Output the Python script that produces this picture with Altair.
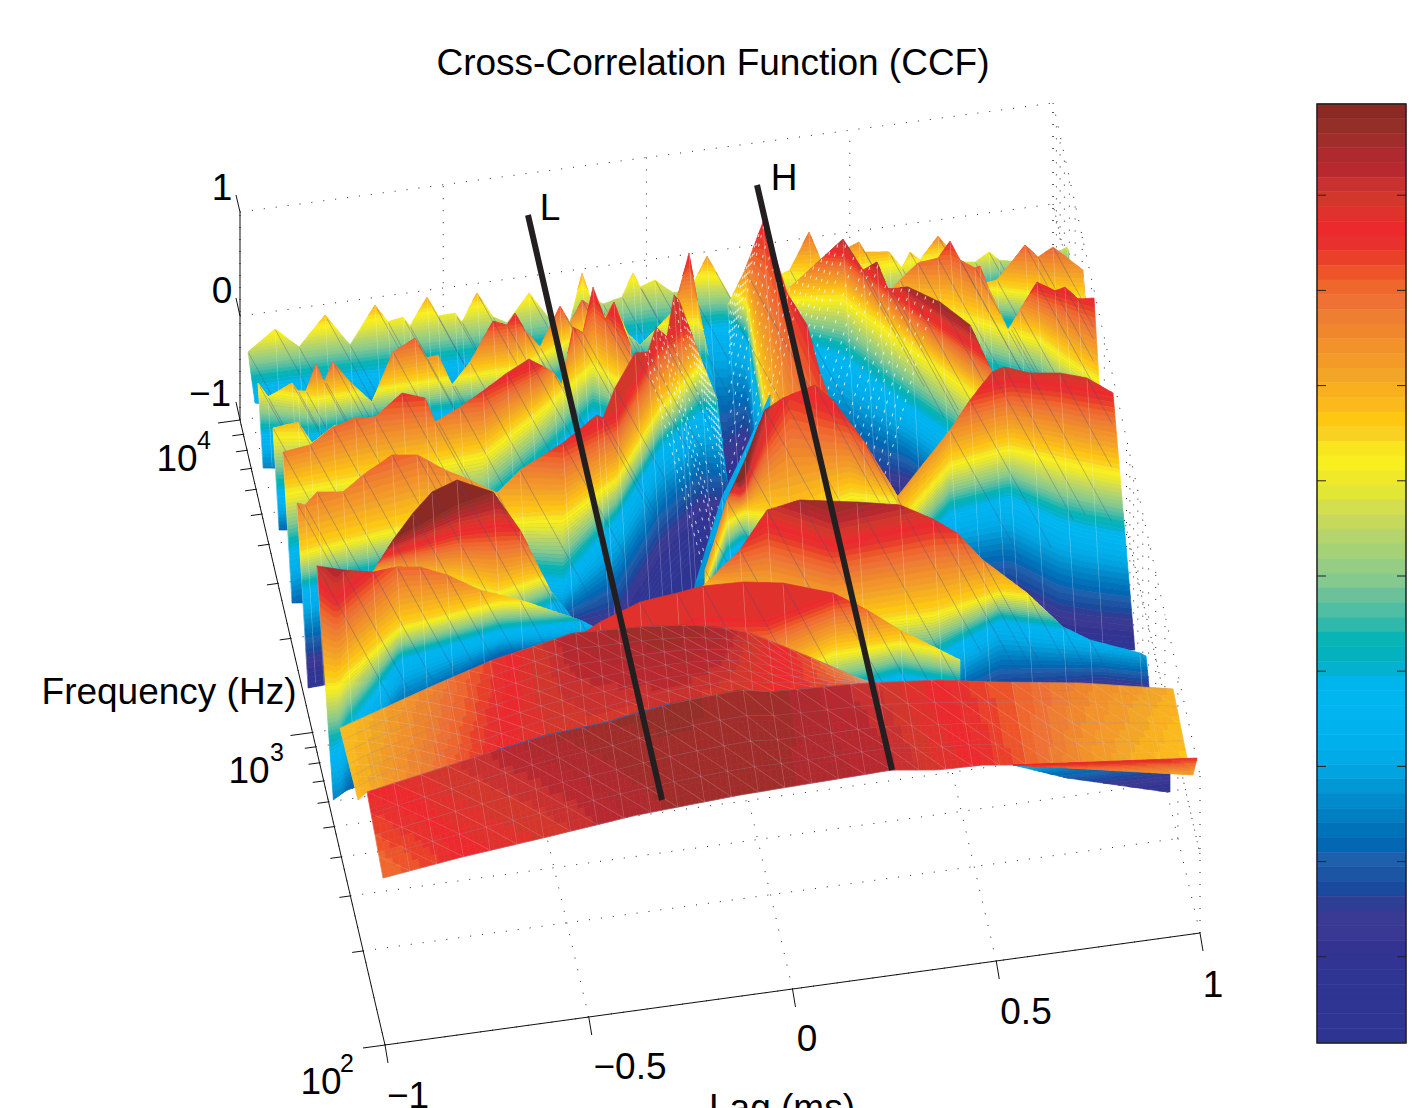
import math
import numpy as np
import pandas as pd
import altair as alt

# Colour bar, top to bottom, 64 steps
BAR_COLORS = ["#8B2A25","#932E28","#A12D2A","#AF2A2E","#B8282F","#C8312F","#D3372C","#E0312D",
 "#EC2A2E","#E8302E","#EA4029","#EE5429","#F0672E","#EF7133","#EE7E31","#F0872D",
 "#F3922A","#F39A28","#F2A527","#F9B01E","#FBB91C","#FEC812","#F9D122","#F9E51F",
 "#F9EE20","#EFE92A","#E2E635","#D4DF4F","#C6D95B","#B6D46C","#A5D276","#94CD83",
 "#84C98E","#6DC19A","#50BEA3","#30B8AB","#09B5B4","#03B2BC","#04B1CE","#00B5EC",
 "#00B6EF","#00B5F0","#00B3EE","#00B0EC","#00ABE8","#01A4E0","#0198D5","#018BCC",
 "#007FC2","#0072BA","#0367B3","#1E60AC","#1C55A3","#1A4A9E","#2F3E95","#393A93",
 "#393892","#333491","#313492","#2F3593","#2F3593","#2F3593","#2F3593","#2E3492"]
BAR_TICKS = [0.8,0.6,0.4,0.2,0,-0.2,-0.4,-0.6,-0.8]
BAR_LABELS = ["0.8","0.6","0.4","0.2","0","−0.2","−0.4","−0.6","−0.8"]
Z_TOP, Z_BOT = 0.992, -0.981
STEP = (Z_TOP - Z_BOT) / 64

# The surface as seen in the picture's view plane: ridge outlines (x, top y), lower limit,
# and where the colour levels 0.7 / 0.3 / -0.3 / -0.65 fall at some columns.
A = dict(X=[248,275,299,325,350,375,388,403,410,427,438,455,462,477,493,507,529,548,570,582,590,603,622,633,640,655,673,690,707,732,770,790,809,822,833,843,859,865,889,902,910,920,938,960,975,989,999,1015,1040,1067,1069],
 T=[352,329,347,315,345,305,322,317,326,297,316,313,322,293,317,323,293,317,323,273,297,304,297,273,287,280,293,290,256,300,280,270,232,263,259,250,242,252,252,268,252,260,236,262,262,252,260,262,262,247,252],
 bx=[248,500,700,800,1069], by=[403,440,510,500,350],
 ax=[248,500,650,720,810,950,1069],
 lv=[[290,262,235,235,215,225,205],[330,297,268,270,270,250,235],[395,365,345,333,340,310,280],[450,420,420,433,430,400,330]], sl=.137, sr=0, zmax=.72)
R1 = dict(X=[860,918,975,997,1025,1038,1053,1083,1085], T=[300,290,285,280,245,257,247,270,300],
 bx=[860,1085], by=[400,400], ax=[860,990,1085],
 lv=[[235,235,235],[285,285,295],[330,330,345],[380,380,390]], sl=0, sr=0, zmax=.75)
B = dict(X=[258,268,292,298,306,316,324,333,350,372,393,415,427,438,452,470,493,507,515,525,540,560,570,582,605,614,627,640,655,674,689,697,705,717,728],
 T=[383,397,383,391,391,364,382,362,382,402,352,338,358,355,385,362,321,325,313,330,347,306,323,300,317,302,333,345,330,310,253,300,340,400,490],
 bx=[258,450,728], by=[468,470,520], ax=[258,316,415,515,593,689,728],
 lv=[[345,355,330,320,290,262,262],[385,395,380,365,325,317,317],[440,440,420,410,365,370,370],[490,490,470,460,420,420,420]], sl=.06, sr=0, zmax=.75)
B2 = dict(X=[273,298,312,335,360], T=[428,422,443,425,440], bx=[273,360], by=[530,530], ax=[273,360],
 lv=[[380,380],[430,430],[500,500],[540,540]], sl=.06, sr=0, zmax=.5)
R2 = dict(X=[880,900,918,938,950,960,975,980,988,1008,1020,1037,1055,1065,1078,1094],
 T=[300,280,263,258,241,260,268,266,287,330,310,282,291,287,299,298], bx=[880,1094], by=[450,450], ax=[880,950,1040,1094],
 lv=[[250,243,290,305],[300,307,335,375],[360,370,395,430],[420,420,440,480]], sl=0, sr=.06, zmax=.76)
C = dict(X=[283,310,333,355,375,402,425,435,460,483,507,529,553,562,573,583,593,605,614,630,640],
 T=[452,445,427,418,417,393,398,422,407,391,373,359,372,385,327,333,287,320,302,345,400], bx=[283,640], by=[603,600], ax=[283,375,483,540,593,640],
 lv=[[430,395,391,365,300,340],[487,472,450,407,360,390],[560,535,520,470,420,430],[620,590,570,520,470,480]], sl=.06, sr=0, zmax=.76)
R3 = dict(X=[785,843,863,877,888,908,940,970,992,1004], T=[292,239,270,262,289,287,302,325,372,380], bx=[785,1004], by=[560,560], ax=[790,843,908,990],
 lv=[[250,255,305,360],[295,293,340,400],[345,365,415,470],[430,450,470,530]], sl=0, sr=0, dash=(790,935,8,-.28), zmax=.92)
SP = dict(X=[728,745,763,775,787,807,820,830,845], T=[305,270,222,255,293,325,373,400,430], bx=[728,845], by=[600,600], ax=[730,747,765,790,820],
 lv=[[240,240,230,300,370],[285,300,400,500,550],[330,345,450,560,620],[430,420,520,620,680]], sl=0, sr=0, dash=(732,800,4,-.25), zmax=.76)
D = dict(X=[297,305,317,343,363,392,417,427,445,470,497,520,563,597,603,615,635,648,656,667,674,679,700,717,728,735],
 T=[503,505,492,492,475,455,455,460,470,480,493,470,443,415,418,388,353,352,327,337,295,300,357,400,490,560],
 bx=[297,540,735], by=[688,660,620], ax=[297,420,563,617,660,700,735],
 lv=[[470,430,445,420,345,320,320],[550,520,513,475,405,362,362],[595,570,590,525,455,420,420],[650,630,620,600,530,490,490]], sl=.06, sr=0, dash=(645,728,4,.27), zmax=.78)
M0 = dict(X=[695,722,745,770], T=[585,497,450,395], bx=[695,770], by=[600,600], ax=[695,770], lv=[[200,200],[300,300],[400,400],[800,800]], sl=0, sr=0)
M = dict(X=[705,715,727,745,765,783,815,833,863,898], T=[570,540,500,460,410,398,385,400,440,497], bx=[705,898], by=[625,625], ax=[705,727,743,765,790,850,898],
 lv=[[545,490,495,440,395,420,470],[585,520,510,510,520,490,497],[600,560,545,560,570,560,530],[640,600,590,600,620,620,580]], sl=0, sr=0)
D2 = dict(X=[897,950,970,992,1004,1030,1060,1087,1113], T=[497,430,400,372,367,373,373,378,393], bx=[897,1113], by=[650,650], ax=[897,950,1010,1060,1113],
 lv=[[455,400,385,390,400],[520,460,443,455,467],[575,520,505,530,545],[620,580,575,600,610]], sl=0, sr=.085, zmax=.78)
E0 = dict(X=[373,393,413,432,457,493,520,550,570], T=[572,540,513,492,480,492,530,590,615], bx=[373,570], by=[680,680], ax=[373,457,497,560],
 lv=[[560,535,530,530],[575,580,590,570],[630,625,635,605],[680,670,670,640]], sl=0, sr=0)
E = dict(X=[317,343,373,397,420,447,480,520,580,620], T=[566,570,572,567,567,575,590,600,620,640], bx=[317,620], by=[800,700], ax=[317,335,400,500,620],
 lv=[[590,605,550,560,560],[680,680,625,600,600],[760,755,665,635,620],[830,830,720,660,650]], sl=.07, sr=0, zmax=.85)
M2 = dict(X=[703,740,767,800,857,900,933,957,983,1027,1063,1090,1140,1146], T=[586,550,510,500,502,505,519,533,560,593,627,640,653,656], bx=[703,1146], by=[700,700], ax=[705,767,833,933,1000,1100,1146],
 lv=[[560,530,550,530,530,550,560],[590,610,623,610,590,600,610],[610,660,680,665,625,640,645],[640,700,720,710,680,675,680]], sl=0, sr=.1, zmax=.92)
H0 = dict(X=[1013,1170], T=[755,755], bx=[1013,1067,1167,1170], by=[765,778,792,792], ax=[1013,1090,1170],
 lv=[[640,640,640],[700,690,680],[765,745,730],[785,780,770]], sl=0, sr=0, plain=True)
F1 = dict(X=[573,600,640,677,703,743,783,833,867,900,940,960], T=[640,622,602,593,586,582,583,593,610,630,650,660], bx=[573,960], by=[720,720], ax=[573,700,767,833,900,960],
 lv=[[680,625,625,600,590,600],[720,700,680,650,640,650],[760,740,720,700,680,690],[800,780,760,740,720,730]], sl=0, sr=0, zmax=.76)
CURTAINS_1 = [A, R1, B, B2, R2, C, R3, SP, D, M0, M, D2, E0, E, M2, H0, F1]

# Flat sheets at the front: colour follows position along the sheet
F2 = dict(tx=[340,430,493,573,640,683,717,750,800,840,870,940], ty=[728,687,660,633,627,625,627,633,653,670,683,690],
 tz=[.34,.52,.68,.88,.93,.93,.9,.8,.68,.55,.45,.4],
 bx=[358,367,497,547,607,640,673,740,767,867,940], by=[800,792,750,735,722,712,703,690,692,683,690],
 bz=[.36,.4,.72,.78,.8,.8,.82,.78,.75,.6,.45], rows=6, cols=28)
G = dict(tx=[367,497,547,607,640,673,740,767,867,940,990,1080,1173], ty=[792,750,735,722,712,703,690,692,683,680,682,683,689],
 tz=[.72,.85,.9,.93,.94,.94,.92,.92,.82,.72,.65,.52,.4],
 bx=[383,458,547,637,663,740,892,937,983,1013,1100,1187], by=[878,858,837,815,810,795,770,770,765,765,762,758],
 bz=[.58,.72,.78,.88,.9,.93,.85,.78,.72,.65,.45,.33], rows=4, cols=30)
S = dict(tx=[1013,1197], ty=[765,758], tz=[.75,.72], bx=[1013,1193], by=[765,775], bz=[.7,.42], rows=2, cols=0)
CREASE_X = [497,547,607,640,673]
CREASE_Y = [750,735,722,712,703]

LAG_TICKS = [-1,-0.5,0,0.5,1]
FREQ_TICKS = [100,200,300,400,500,600,700,800,900,1000,2000,3000,4000,5000,6000,7000,8000,9000,10000]
TEXTS = [("Cross-Correlation Function (CCF)",713,64,37),("1",222,189,37),("0",222,292,37),("−1",210,395,37),
 ("10",177,460,37),("4",204,441,25),("10",249,772,37),("3",277,753,25),("10",321,1083,37),("2",347,1064,25),
 ("−1",408,1097,37),("−0.5",630,1068,37),("0",807,1040,37),("0.5",1026,1013,37),("1",1213,986,37),
 ("Frequency (Hz)",169,693,37),("Lag (ms)",782,1109,37),("L",550,209,37),("H",784,179,37)]
MARK_LINES = [(528,215,662,800),(757,185,892,770)]

features = []
def poly(pts, c, o=1.0, stroke=None, w=0.0):
    ring = [[round(float(x),1), round(float(y),1)] for x,y in pts]
    ring.append(ring[0])
    features.append({"type":"Feature","properties":{"c":c,"o":o,"s":stroke or c,"w":w},
                     "geometry":{"type":"Polygon","coordinates":[ring]}})

def col(z):
    return BAR_COLORS[int(np.clip((Z_TOP - z)/STEP, 0, 63))]

def segment(p0, p1, c, o, w):
    dx, dy = p1[0]-p0[0], p1[1]-p0[1]
    n = math.hypot(dx, dy) or 1
    nx, ny = -dy/n*w/2, dx/n*w/2
    poly([(p0[0]+nx,p0[1]+ny),(p1[0]+nx,p1[1]+ny),(p1[0]-nx,p1[1]-ny),(p0[0]-nx,p0[1]-ny)], c, o)

ZR = [.7,.3,-.3,-.65]
def curtain(L):
    X = np.array(L["X"],float); T = np.array(L["T"],float)
    cols = np.unique(np.concatenate([X, np.arange(X[0], X[-1], 5.0)]))
    top = np.interp(cols, X, T)
    bot = np.maximum(np.interp(cols, L["bx"], L["by"]), top)
    ys = [np.interp(cols, L["ax"], row) for row in L["lv"]]
    shear = L["sl"]*np.clip(1-(cols-X[0])/30,0,1) + L["sr"]*np.clip(1-(X[-1]-cols)/30,0,1)
    zmax = L.get("zmax", 2.0)
    k0 = next(k for k in range(64) if Z_TOP-(k+1)*STEP < zmax)
    def y_at(z):
        i = 0 if z >= ZR[1] else (1 if z >= ZR[2] else 2)
        return ys[i] + (ZR[i]-z)*(ys[i+1]-ys[i])/(ZR[i]-ZR[i+1])
    for k in range(k0,64):
        up = np.clip(y_at(Z_TOP-k*STEP), top, bot) if k > k0 else top.copy()
        lo = np.clip(y_at(Z_TOP-(k+1)*STEP), top, bot) if k < 63 else bot.copy()
        lo = np.maximum(lo, up)
        thick = lo-up > 0.02
        if not thick.any():
            continue
        mask = thick.copy()
        mask[:-1] |= thick[1:]; mask[1:] |= thick[:-1]
        idx = np.where(mask)[0]
        runs = np.split(idx, np.where(np.diff(idx) > 1)[0]+1)
        for r in runs:
            if len(r) < 2:
                continue
            upper = [(cols[j]+shear[j]*(up[j]-top[j]), up[j]) for j in r]
            lower = [(cols[j]+shear[j]*(lo[j]-top[j]), lo[j]) for j in r[::-1]]
            poly(upper+lower, BAR_COLORS[k], 1.0, BAR_COLORS[k], 0.7)
    def trace(x0, y0, lean, maxlen=1e9):
        pts = []
        y = y0 + 1.0
        while y < y0 + maxlen:
            x = x0 + lean*(y-y0)
            if x < X[0] or x > X[-1]:
                break
            if y > np.interp(x, L["bx"], L["by"]):
                break
            if y < np.interp(x, X, T) + 0.5:
                if pts:
                    break
            else:
                pts.append((x,y))
            y += 3.0
        return pts
    if L.get("plain"):
        return
    for x0,y0 in zip(L["X"],L["T"]):
        p = trace(x0,y0,0.06)
        if len(p) > 2:
            segment(p[0],p[-1],"#ffffff",0.30,0.7)
        p = trace(x0,y0,0.55,150)
        if len(p) > 2:
            segment(p[0],p[-1],"#3f4f8f",0.38,0.7)
    if "dash" in L:
        x0,x1,st,lean = L["dash"]
        for xs in np.arange(x0,x1,st):
            ys0 = float(np.interp(xs,X,T))
            p = trace(xs,ys0,lean)
            for a in range(0,len(p)-2,3):
                segment(p[a],p[a+1],"#ffffff",0.8,0.9)

def sheet(Sh):
    tx,ty,tz = map(np.array,(Sh["tx"],Sh["ty"],Sh["tz"]))
    bx,by,bz = map(np.array,(Sh["bx"],Sh["by"],Sh["bz"]))
    def pt(u,v):
        xt = tx[0]+u*(tx[-1]-tx[0]); xb = bx[0]+u*(bx[-1]-bx[0])
        yt = np.interp(xt,tx,ty); yb = np.interp(xb,bx,by)
        zt = np.interp(xt,tx,tz); zb = np.interp(xb,bx,bz)
        return (xt+v*(xb-xt), yt+v*(yb-yt), zt+v*(zb-zt))
    NU,NV = 130,10
    for i in range(NU):
        for j in range(NV):
            a,b,c,d = pt(i/NU,j/NV),pt((i+1)/NU,j/NV),pt((i+1)/NU,(j+1)/NV),pt(i/NU,(j+1)/NV)
            cc = col((a[2]+b[2]+c[2]+d[2])/4)
            poly([a[:2],b[:2],c[:2],d[:2]],cc,1.0,cc,0.7)
    R,Cn = Sh["rows"],Sh["cols"]
    if not Cn:
        return
    for j in range(R+1):
        for i in range(Cn):
            segment(pt(i/Cn,j/R)[:2],pt((i+1)/Cn,j/R)[:2],"#8a90b8",0.35,0.7)
    for i in range(Cn+1):
        for j in range(R):
            segment(pt(i/Cn,j/R)[:2],pt(i/Cn,(j+1)/R)[:2],"#d8d0e0",0.3,0.7)
    for i in range(Cn):
        for j in range(R):
            segment(pt(i/Cn,j/R)[:2],pt((i+1)/Cn,(j+1)/R)[:2],"#e8d8e0",0.25,0.7)

for L in CURTAINS_1:
    curtain(L)
sheet(F2)
sheet(G)
for i in range(len(CREASE_X)-1):
    segment((CREASE_X[i],CREASE_Y[i]),(CREASE_X[i+1],CREASE_Y[i+1]),"#1c5fb5",0.7,1.0)
sheet(S)

XS = alt.Scale(domain=[8,1418], nice=False, zero=False)
YS = alt.Scale(domain=[1108,8], nice=False, zero=False)

def tpos(f): return math.log10(f/100)/2
def floor(lag,f):
    u,t = (lag+1)/2, tpos(f)
    xl,yl = 385-145*t, 1045-625*t
    xr,yr = 1200-147*t, 933-628*t
    return (xl+u*(xr-xl), yl+u*(yr-yl))
def wall_right(f,z):
    t = tpos(f)
    xb,yb = 1200-147*t, 933-628*t
    xt,yt = 1200-147*t, 775-672*t
    w = (z+1)/2
    return (xb+w*(xt-xb), yb+w*(yt-yb))
def wall_back(lag,z):
    u = (lag+1)/2
    return (240+u*813, 420-u*115 + (z+1)/2*(-208+u*6))

dots=[]
for f in FREQ_TICKS:
    p,q = floor(-1,f),floor(1,f); dots.append((*p,*q))
    p,q = wall_right(f,-1),wall_right(f,1); dots.append((*p,*q))
for l in LAG_TICKS:
    p,q = floor(l,100),floor(l,10000); dots.append((*p,*q))
    p,q = wall_back(l,-1),wall_back(l,1); dots.append((*p,*q))
for z in (0,1):
    p,q = wall_back(-1,z),wall_back(1,z); dots.append((*p,*q))
    p,q = wall_right(10000,z),wall_right(100,z); dots.append((*p,*q))
p,q = wall_right(100,0),wall_right(10000,0)
dots.append((*p,*q))

solid=[(385,1045,240,420),(385,1045,1200,933),(240,212,240,420),
       (236,195,240,212),(236,298,240,316),(236,402,240,420)]
for f in FREQ_TICKS:
    x,y = floor(-1,f)
    ln = 22 if f in (100,1000,10000) else 11
    solid.append((x,y,x-ln,y+ln*0.137))
for l in LAG_TICKS:
    x,y = floor(l,100)
    solid.append((x,y,x+3,y+18))

def rule_df(rows): return pd.DataFrame(rows,columns=["x","y","x2","y2"])
def rules(rows,**kw):
    return alt.Chart(rule_df(rows)).mark_rule(**kw).encode(
        x=alt.X("x:Q",scale=XS,axis=None), y=alt.Y("y:Q",scale=YS,axis=None), x2="x2:Q", y2="y2:Q")

dot_layer = rules(dots,color="#222222",strokeWidth=1,strokeDash=[1,11])
geo = alt.Chart(alt.InlineData(values={"type":"FeatureCollection","features":features},
                               format=alt.DataFormat(type="json",property="features"))
        ).mark_geoshape().encode(
            color=alt.Color("properties.c:N",scale=None,legend=None),
            opacity=alt.Opacity("properties.o:Q",scale=None,legend=None),
            stroke=alt.Stroke("properties.s:N",scale=None,legend=None),
            strokeWidth=alt.StrokeWidth("properties.w:Q",scale=None,legend=None),
        ).project(type="identity",scale=1,translate=[-8,-8])
axis_layer = rules(solid,color="#111111",strokeWidth=1)
mark_layer = rules(MARK_LINES,color="#231F20",strokeWidth=6)

txt = pd.DataFrame(TEXTS,columns=["t","x","y","s"])
text_layer = alt.Chart(txt).mark_text(font="Liberation Sans",color="black",baseline="middle",align="center").encode(
    x=alt.X("x:Q",scale=XS,axis=None), y=alt.Y("y:Q",scale=YS,axis=None), text="t:N",
    size=alt.Size("s:Q",scale=None,legend=None))

def bar_y(z): return 576-476*z
bar = pd.DataFrame({"c":BAR_COLORS,
    "y":[bar_y(Z_TOP-k*STEP) for k in range(64)],
    "y2":[bar_y(Z_TOP-(k+1)*STEP) for k in range(64)],"x":1317,"x2":1406})
bar_layer = alt.Chart(bar).mark_rect(strokeWidth=0.6).encode(
    x=alt.X("x:Q",scale=XS,axis=None), x2="x2:Q", y=alt.Y("y:Q",scale=YS,axis=None), y2="y2:Q",
    color=alt.Color("c:N",scale=None,legend=None), stroke=alt.Stroke("c:N",scale=None,legend=None))
frame = alt.Chart(pd.DataFrame({"x":[1317],"x2":[1406],"y":[104],"y2":[1043]})).mark_rect(
    fillOpacity=0,stroke="#222222",strokeWidth=1.5).encode(
    x=alt.X("x:Q",scale=XS,axis=None), x2="x2:Q", y=alt.Y("y:Q",scale=YS,axis=None), y2="y2:Q")
bt=[]
for z in BAR_TICKS:
    bt += [(1317,bar_y(z),1326,bar_y(z)),(1397,bar_y(z),1406,bar_y(z))]
bar_ticks = rules(bt,color="#222222",strokeWidth=1)
bl = pd.DataFrame({"t":BAR_LABELS,"y":[bar_y(z)+3 for z in BAR_TICKS],"x":1412})
bar_text = alt.Chart(bl).mark_text(font="Liberation Sans",fontSize=37,align="left",baseline="middle",color="black").encode(
    x=alt.X("x:Q",scale=XS,axis=None), y=alt.Y("y:Q",scale=YS,axis=None), text="t:N")

chart = alt.layer(dot_layer,geo,axis_layer,mark_layer,text_layer,bar_layer,frame,bar_ticks,bar_text).properties(
    width=1410,height=1100,padding=0,background="white",autosize=alt.AutoSizeParams(type="none")
).configure_view(stroke=None)
chart.save("out.html", embed_options={"renderer":"svg","actions":False,
    "defaultStyle":"html,body{overflow:hidden} .vega-embed svg{flex-shrink:0 !important;flex:none;max-width:none}"})
